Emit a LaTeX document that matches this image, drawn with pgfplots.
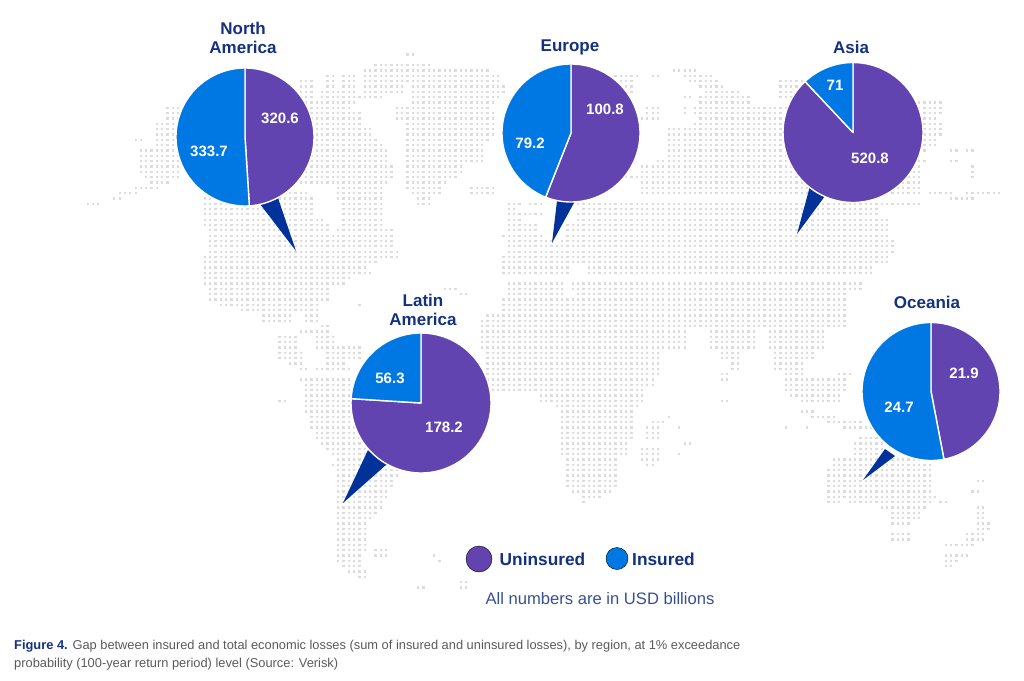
\documentclass[border=0pt]{standalone}
\usepackage{pgfplots}
\pgfplotsset{compat=1.18}
\usepackage{fontspec}
\setmainfont{Liberation Sans}
\definecolor{purp}{HTML}{6244B0}
\definecolor{blu}{HTML}{0078E3}
\definecolor{navy}{HTML}{14317F}
\definecolor{call}{HTML}{00329A}
\definecolor{dot}{HTML}{DCDCDC}
\definecolor{cap}{HTML}{5A5A5A}
\def\maplist{}
\newcommand\blk[4]{%
 \pgfmathtruncatemacro\ja{round((#1-171.7)/5.33)}%
 \pgfmathtruncatemacro\jb{round((#2-171.7)/5.33)}%
 \pgfmathsetmacro\xa{642+5.33*round((#3-642)/5.33)-1.15}%
 \pgfmathsetmacro\xb{642+5.33*round((#4-642)/5.33)+1.15}%
 \foreach \jj in {\ja,...,\jb}{%
  \pgfmathsetmacro\yy{171.7+5.33*\jj}%
  \xdef\maplist{\maplist (\xa,\yy) (\xb,\yy) (nan,nan) }%
 }}
\newcommand\mapblocks[1]{\foreach \pa/\pb/\pc/\pd in {#1}{\blk{\pa}{\pb}{\pc}{\pd}}}
\mapblocks{57/57/405/412,63/63/378/428,68/68/377/432,68/68/452/485,73/73/363/433,73/73/437/443,73/73/452/487,
78/83/363/497,78/88/327/333,78/88/343/355,83/93/300/313,88/93/363/402,88/93/413/503,93/93/320/355,
99/99/300/313,99/99/320/357,99/99/365/380,99/99/413/500,104/104/290/337,104/104/343/353,104/104/413/493,
110/110/170/347,110/110/397/490,115/120/170/357,115/120/398/492,125/136/155/357,131/136/357/370,125/136/410/492,
142/142/138/141,142/142/155/373,142/142/410/490,147/147/155/380,147/147/410/483,152/163/140/385,152/163/410/480,
168/168/140/390,168/173/410/463,173/173/140/177,173/173/250/390,179/179/147/177,179/179/250/390,179/179/410/453,
184/184/150/167,184/184/250/337,184/184/340/387,184/184/410/447,188/188/133/157,189/189/340/380,189/189/410/440,
189/195/473/495,193/193/122/135,195/195/283/307,195/195/340/383,195/195/413/437,198/198/113/120,204/204/87/98,
201/206/420/427,201/201/207/310,201/201/340/380,206/213/207/310,206/213/342/380,219/219/207/320,219/219/343/380,
224/224/207/327,224/224/343/382,229/229/208/330,229/229/340/390,235/245/208/390,251/251/210/397,256/256/207/373,
256/256/380/397,261/261/207/373,267/267/207/363,272/272/207/370,277/277/207/350,283/283/207/343,287/287/445/458,
288/288/208/330,293/299/212/327,293/293/463/465,303/303/358/360,304/304/220/318,309/309/240/318,315/320/262/290,
315/320/307/317,328/328/323/328,333/333/300/330,338/342/280/297,338/342/317/335,345/350/280/297,345/350/317/360,
355/360/280/300,355/360/327/360,365/365/290/300,365/365/327/345,371/371/300/307,371/371/317/347,400/400/280/287,
378/378/300/350,383/410/305/352,415/415/310/352,421/421/312/355,426/426/313/355,431/431/317/358,437/437/318/360,
442/442/320/370,447/447/330/367,453/453/335/368,458/458/337/370,463/463/337/375,467/467/335/390,472/477/337/397,
483/483/337/392,488/488/337/390,493/499/337/387,504/509/337/380,515/515/337/373,520/520/337/370,525/525/337/367,
531/547/337/363,552/552/337/363,552/557/373/387,557/563/337/360,567/567/342/358,573/573/347/363,578/578/362/365,
558/558/432/434,563/563/437/439,580/585/463/465,590/590/418/425}
\mapblocks{68/68/673/688,73/73/680/693,78/78/618/635,78/78/655/658,78/78/687/710,83/83/618/633,83/83/690/718,83/88/780/803,
88/88/500/505,88/88/618/633,88/88/703/720,93/93/500/505,93/93/618/630,93/93/707/740,93/99/780/830,99/99/687/692,99/99/703/747,
104/104/703/747,104/104/917/943,110/115/647/657,110/115/683/685,110/115/697/943,120/120/643/657,120/120/700/933,125/125/697/940,
131/136/667/940,142/147/667/933,152/152/667/923,152/152/953/958,152/152/968/973,157/157/667/920,163/163/657/927,163/163/953/958,
168/173/643/917,168/179/972/975,179/179/627/917,184/195/640/917,195/195/930/950,195/195/965/997,200/200/950/975,
203/203/508/517,203/203/528/542,203/203/575/917,208/208/508/512,208/208/583/877,213/213/508/543,213/213/577/877,
219/219/508/520,219/219/577/887,224/229/508/537,224/229/570/887,235/235/505/540,235/235/567/887,240/240/508/550,240/240/563/893,
245/251/508/893,256/264/505/885,270/275/503/570,270/275/590/870,281/287/507/560,281/287/575/860,
292/297/507/560,292/297/580/847,302/313/503/847,318/318/487/845,323/327/483/845,333/345/483/683,333/345/713/755,333/345/770/823,
350/350/483/680,350/350/715/750,350/350/780/815,355/360/490/660,355/360/720/740,355/360/775/810,365/371/490/657,365/371/735/740,
365/371/775/800,376/376/490/657,376/376/723/725,376/376/785/800,376/376/838/850,381/386/490/650,381/381/723/725,381/392/785/845,
392/392/495/640,397/397/540/640,397/397/790/840,402/402/540/640,402/402/723/725,402/402/800/840,408/408/555/635,411/411/800/815,
416/416/812/835,422/422/827/863,427/427/785/787,427/427/807/809,428/428/845/875,413/440/560/633,445/455/562/625,460/460/565/615,
465/485/570/613,490/490/572/610,495/495/585/600,500/500/582/584,423/423/653/663,430/440/645/660,447/460/643/657,465/465/645/650,
427/427/677/679,445/445/687/689,453/453/677/679,417/417/668/670,438/438/863/877,443/453/857/883,458/465/833/930,470/490/827/930,
495/495/830/933,500/500/827/840,500/500/850/930,506/506/880/922,511/516/890/920,521/521/893/907,532/537/895/907,542/542/900/902,
480/480/979/981,490/490/975/977,500/500/943/945,510/517/978/985,522/527/978/990,532/537/968/985,542/542/965/970,547/547/948/970,
553/553/950/968,558/558/947/960,563/563/947/955,568/568/947/950}
\newcommand\pwedge[6]{%
 \addplot[draw=white,line width=1.4pt,fill=#6,domain={#4}:{#5},samples=90,line join=round]
  ({#1+#3*sin(x)},{#2-#3*cos(x)}) -- (axis cs:#1,#2) -- cycle;}
\newcommand\piechart[5]{%
 \pwedge{#1}{#2}{#3}{0}{360*#4/(#4+#5)}{purp}%
 \pwedge{#1}{#2}{#3}{360*#4/(#4+#5)}{360}{blu}}
\newcommand\callout[6]{%
 \addplot[fill=call,draw=none] coordinates {(#1,#2) (#3,#4) (#5,#6)};}
\begin{document}
\begin{tikzpicture}
\begin{axis}[scale only axis,width=1024pt,height=680pt,xmin=0,xmax=1024,ymin=0,ymax=680,y dir=reverse,
 hide axis,clip=true,unbounded coords=jump]
\path (axis cs:0,0) rectangle (axis cs:1024,680);
\edef\temp{\noexpand\addplot[dot,line width=2.3pt,dash pattern=on 2.3pt off 3.03pt] coordinates {\maplist};}
\temp
\callout{260}{204}{278}{198}{296}{251}
\callout{557}{201}{575}{201}{552}{243}
\callout{810}{186}{825}{196}{797}{234}
\callout{368}{450}{387}{464}{343}{503}
\callout{885}{449}{895}{456}{863}{480}
\piechart{245}{137}{69}{320.6}{333.7}
\piechart{571}{133}{69}{100.8}{79.2}
\piechart{853}{132.5}{70}{520.8}{71}
\piechart{421}{403}{70}{178.2}{56.3}
\piechart{931}{391.5}{69}{21.9}{24.7}
\addplot[only marks,mark=*,mark size=13pt,mark options={fill=purp,draw=none}] coordinates {(479,559)};
\addplot[only marks,mark=*,mark size=11pt,mark options={fill=blu,draw=none}] coordinates {(617,558.5)};
\tikzset{reg/.style={font=\fontsize{17}{19}\selectfont\bfseries,text=navy,align=center,inner sep=0pt},
 val/.style={font=\fontsize{15}{16}\selectfont\bfseries,text=white,inner sep=0pt}}
\node[reg] at (axis cs:243,38) {North\\America};
\node[reg] at (axis cs:570,47) {Europe};
\node[reg] at (axis cs:851,47) {Asia};
\node[reg] at (axis cs:423,310) {Latin\\America};
\node[reg] at (axis cs:927,302) {Oceania};
\node[val] at (axis cs:280,118.5) {320.6};
\node[val] at (axis cs:209,151) {333.7};
\node[val] at (axis cs:605,109) {100.8};
\node[val] at (axis cs:530,143) {79.2};
\node[val] at (axis cs:835,85.5) {71};
\node[val] at (axis cs:870,158) {520.8};
\node[val] at (axis cs:390,378) {56.3};
\node[val] at (axis cs:444,427) {178.2};
\node[val] at (axis cs:964,373) {21.9};
\node[val] at (axis cs:899,407) {24.7};
\node[font=\fontsize{17.3}{19}\selectfont\bfseries,text=navy,anchor=west,inner sep=0pt] at (axis cs:499.5,559) {Uninsured};
\node[font=\fontsize{17.3}{19}\selectfont\bfseries,text=navy,anchor=west,inner sep=0pt] at (axis cs:632,559) {Insured};
\node[font=\fontsize{16.6}{18}\selectfont,text=navy!85,inner sep=0pt] at (axis cs:600,599) {All numbers are in USD billions};
\node[font=\fontsize{12.85}{18}\selectfont,text=cap,anchor=base west,inner sep=0pt] at (axis cs:14,649) {\textbf{\textcolor{navy}{Figure 4.}} Gap between insured and total economic losses (sum of insured and uninsured losses), by region, at 1\% exceedance};
\node[font=\fontsize{12.85}{18}\selectfont,text=cap,anchor=base west,inner sep=0pt] at (axis cs:14,667) {probability (100-year return period) level (Source: Verisk)};
\end{axis}
\end{tikzpicture}
\end{document}
